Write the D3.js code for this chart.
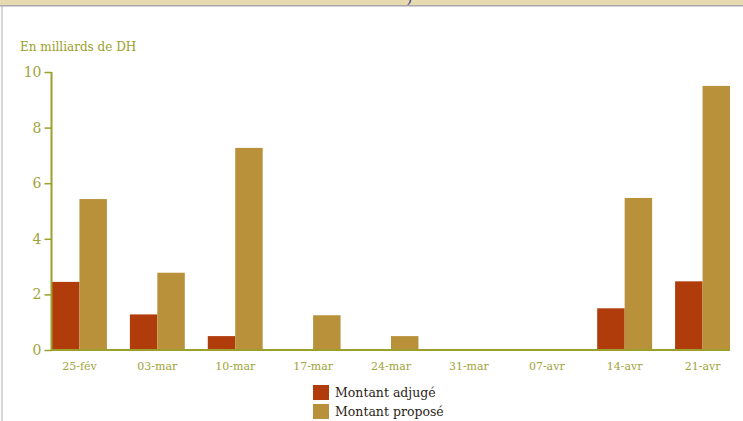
<!DOCTYPE html>
<html>
<head>
<meta charset="utf-8">
<script src="https://cdn.jsdelivr.net/npm/d3@7"></script>
<style>
  html, body { margin: 0; padding: 0; background: #fff; }
  svg { display: block; }
</style>
</head>
<body>
<svg id="chart" width="743" height="421"></svg>
<script>
const categories = ["25-fév", "03-mar", "10-mar", "17-mar", "24-mar", "31-mar", "07-avr", "14-avr", "21-avr"];
const seriesNames = ["Montant adjugé", "Montant proposé"];
const adjuge = [2.45, 1.28, 0.5, 0, 0, 0, 0, 1.5, 2.47];
const propose = [5.43, 2.78, 7.27, 1.25, 0.5, 0, 0, 5.47, 9.5];
const yTicks = [0, 2, 4, 6, 8, 10];
const colors = ["#b03c0c", "#b8913a"];
const axisTitle = "En milliards de DH";

const svg = d3.select("#chart");
const W = 743, H = 421;

// page frame (cropped banner above)
svg.append("rect").attr("x", 0).attr("y", 0).attr("width", W).attr("height", 5).attr("fill", "#e6dbb0");
svg.append("rect").attr("x", 0).attr("y", 5).attr("width", W).attr("height", 1.5).attr("fill", "#a8a8a8");
svg.append("rect").attr("x", 1.5).attr("y", 5).attr("width", 1).attr("height", H).attr("fill", "#b0b0b0");
svg.append("text").attr("x", 407).attr("y", 2).attr("fill", "#2a2a8a")
  .attr("font-family", "Liberation Serif, serif").attr("font-size", 14).text(")");

const x0 = 52, x1 = 730, y0 = 350, y1 = 72;
const x = d3.scaleBand().domain(categories).range([x0, x1]).paddingInner(0.295).paddingOuter(0);
const xs = d3.scaleBand().domain(seriesNames).range([0, x.bandwidth()]).padding(0);
const y = d3.scaleLinear().domain([0, 10]).range([y0, y1]);

const axisColor = "#9aa02a";
const font = "DejaVu Serif, Liberation Serif, serif";

// bars
const data = categories.map((c, i) => ({ c, v: [adjuge[i], propose[i]] }));
const g = svg.append("g");
data.forEach(d => {
  d.v.forEach((v, k) => {
    if (v <= 0) return;
    g.append("rect")
      .attr("x", x(d.c) + xs(seriesNames[k]))
      .attr("y", y(v))
      .attr("width", xs.bandwidth())
      .attr("height", y(0) - y(v))
      .attr("fill", colors[k]);
  });
});

// y axis
const yAxis = d3.axisLeft(y).tickValues(yTicks).tickSize(7).tickPadding(3).tickFormat(d3.format("d"));
const ya = svg.append("g").attr("transform", `translate(${x0 - 0.5},0)`).call(yAxis);
ya.select(".domain").attr("stroke", axisColor).attr("stroke-width", 2).attr("d", `M0,${y1}V${y0}`);
ya.selectAll(".tick line").attr("stroke", axisColor).attr("stroke-width", 1.5);
ya.selectAll(".tick text").attr("fill", "#a0a43a").attr("font-family", font).attr("font-size", 14);

// x axis
const xAxis = d3.axisBottom(x).tickSize(0).tickPadding(12);
const xa = svg.append("g").attr("transform", `translate(0,${y0})`).call(xAxis);
xa.select(".domain").attr("stroke", axisColor).attr("stroke-width", 2).attr("d", `M${x0 - 1},0H${x1}`);
xa.selectAll(".tick text").attr("fill", "#a0a43a").attr("font-family", font).attr("font-size", 11);

// axis title
svg.append("text").attr("x", 20).attr("y", 51).attr("fill", "#9aa02a")
  .attr("font-family", font).attr("font-size", 12).text(axisTitle);

// legend
const lg = svg.append("g").attr("transform", "translate(313,385)");
seriesNames.forEach((s, i) => {
  lg.append("rect").attr("x", 0).attr("y", i * 19).attr("width", 16).attr("height", 15).attr("fill", colors[i]);
  lg.append("text").attr("x", 22).attr("y", i * 19 + 12).attr("fill", "#2a2418")
    .attr("font-family", font).attr("font-size", 12.5).text(s);
});
</script>
</body>
</html>
